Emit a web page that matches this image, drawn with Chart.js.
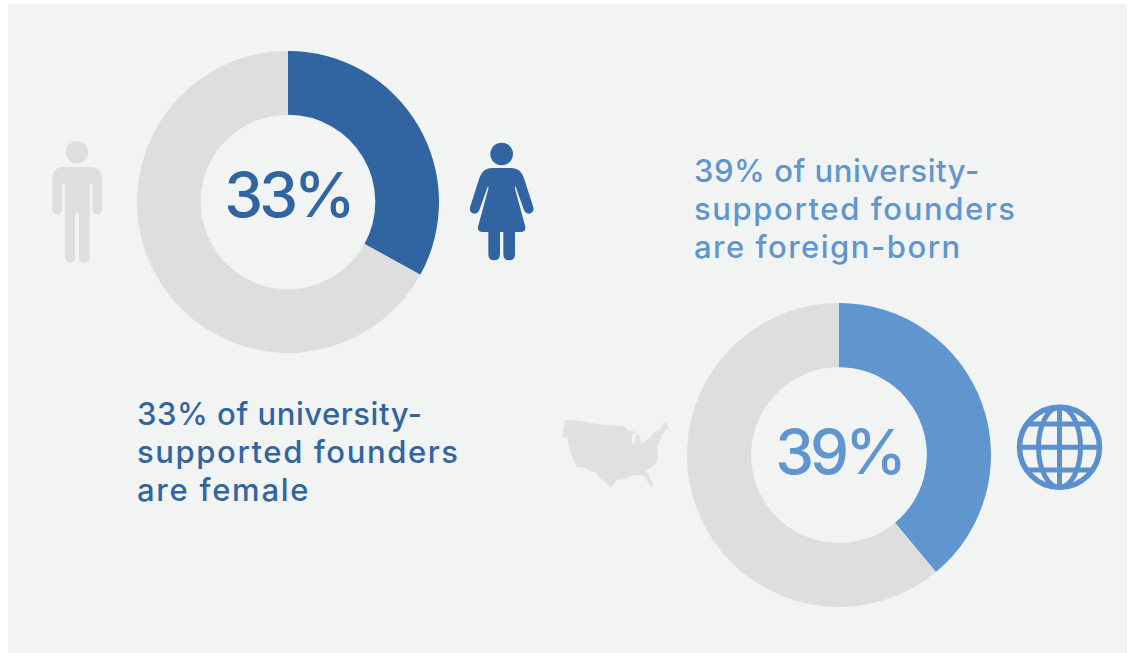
<!DOCTYPE html>
<html>
<head>
<meta charset="utf-8">
<script src="https://cdn.jsdelivr.net/npm/chart.js@4"></script>
<style>
  html, body { margin: 0; padding: 0; background: #fff; }
  #page { position: relative; width: 1130px; height: 653px; overflow: hidden; font-family: Inter, sans-serif; }
  #panel { position: absolute; left: 8px; top: 4px; width: 1119px; height: 649px; background: #f2f4f3; }
  canvas { position: absolute; }
  svg { position: absolute; }
  .big { position: absolute; font-size: 62px; font-weight: 500; letter-spacing: -4px; line-height: 80px; text-align: center; width: 240px; }
  .note { position: absolute; font-size: 31px; font-weight: 500; line-height: 38px; white-space: pre; }
  .note div { height: 38px; }
  .dark { color: #3165a1; }
  .light { color: #6096cf; }
</style>
</head>
<body>
<div id="page">
  <div id="panel"></div>

  <canvas id="femaleChart" width="302" height="302" style="left:137px;top:51px;width:302px;height:302px"></canvas>
  <canvas id="foreignChart" width="304" height="304" style="left:687px;top:303px;width:304px;height:304px"></canvas>

  <div class="big dark" id="femaleBig" style="left:168px;top:155px"></div>
  <div class="big light" id="foreignBig" style="left:719px;top:412px"></div>

  <div class="note dark" id="femaleNote" style="left:137px;top:395px"></div>
  <div class="note light" id="foreignNote" style="left:694px;top:152px"></div>

  <!-- man -->
  <svg style="left:30px;top:120px" width="90" height="160" viewBox="0 0 270 480" fill="#dddfdd">
    <circle cx="141" cy="97" r="33"/>
    <path d="M102 141 H180 Q216 141 216 180 V266 Q216 283 202 283 Q188 283 188 266 V196 Q188 191 184 191 Q179 191 179 196 V412 Q179 428 162 428 Q147 428 147 412 V284 Q147 278 141 278 Q135 278 135 284 V412 Q135 428 120 428 Q105 428 105 412 V196 Q105 191 100 191 Q96 191 96 196 V266 Q96 283 81 283 Q67 283 67 266 V180 Q67 141 102 141 Z"/>
  </svg>

  <!-- woman -->
  <svg style="left:450px;top:130px" width="100" height="140" viewBox="0 0 300 420" fill="#3165a1">
    <circle cx="155" cy="72" r="34"/>
    <path d="M125 114 H185 Q212 114 222 145 L250 232 Q253 248 238 251 Q226 252 221 238 L197 170 Q194 166 195 176 L226 290 Q228 306 212 306 H195 V372 Q195 391 177 391 Q160 391 160 372 V306 H150 V372 Q150 391 132 391 Q115 391 115 372 V306 H98 Q82 306 84 290 L115 176 Q116 166 113 170 L89 238 Q84 252 72 251 Q57 248 60 232 L88 145 Q98 114 125 114 Z"/>
  </svg>

  <!-- US outline -->
  <svg style="left:550px;top:405px" width="130" height="95" viewBox="0 0 390 285" fill="#e0e1e0">
    <path d="M45 45 L60 44 L110 52 L165 60 L205 62 L222 62 L228 72 L245 78 L262 82 L247 88 L245 100 L247 118 L254 116 L255 95 L262 85 L272 98 L272 116 L285 110 L300 100 L310 85 L325 75 L335 68 L338 55 L348 52 L355 68 L345 80 L335 88 L335 100 L328 108 L322 125 L325 150 L320 172 L300 190 L288 195 L298 215 L310 240 L305 247 L295 235 L285 215 L270 210 L245 212 L225 222 L200 225 L190 240 L182 250 L170 235 L150 220 L135 200 L120 198 L105 190 L80 185 L75 175 L60 140 L52 100 L36 95 Z"/>
  </svg>

  <!-- globe -->
  <svg style="left:1005px;top:395px" width="110" height="105" viewBox="0 0 110 105" fill="none" stroke="#5b90cc" stroke-width="5">
    <circle cx="54.5" cy="52.3" r="40" stroke-width="5.5"/>
    <ellipse cx="54.5" cy="52.3" rx="21" ry="40"/>
    <line x1="54.5" y1="12" x2="54.5" y2="92"/>
    <line x1="14.5" y1="52.3" x2="94.5" y2="52.3"/>
    <line x1="21" y1="29" x2="88" y2="29"/>
    <line x1="21" y1="75" x2="88" y2="75"/>
  </svg>
</div>

<script>
const femaleLabels = ["Female", "Male"];
const femaleValues = [33, 67];
const foreignLabels = ["Foreign-born", "US-born"];
const foreignValues = [39, 61];

const femaleBigText = "33%";
const foreignBigText = "39%";
const femaleNoteLines = ["33% of university-", "supported founders", "are female"];
const foreignNoteLines = ["39% of university-", "supported founders", "are foreign-born"];

const ringGrey = "#dddfdd";
const darkBlue = "#3165a1";
const lightBlue = "#6096cf";

function drawRing(id, labels, values, color) {
    new Chart(document.getElementById(id).getContext("2d"), {
        type: "doughnut",
        data: {
            labels: labels,
            datasets: [{
                data: values,
                backgroundColor: [color, ringGrey],
                borderWidth: 0
            }]
        },
        options: {
            responsive: false,
            animation: false,
            cutout: "57.8%",
            plugins: { legend: { display: false }, tooltip: { enabled: false } }
        }
    });
}

// each line gets its own tracking so the widths line up
function writeNote(id, lines, tracking) {
    const box = document.getElementById(id);
    lines.forEach((line, i) => {
        const row = document.createElement("div");
        row.textContent = line;
        row.style.letterSpacing = tracking[i] + "px";
        box.appendChild(row);
    });
}

drawRing("femaleChart", femaleLabels, femaleValues, darkBlue);
drawRing("foreignChart", foreignLabels, foreignValues, lightBlue);

document.getElementById("femaleBig").textContent = femaleBigText;
document.getElementById("foreignBig").textContent = foreignBigText;
writeNote("femaleNote", femaleNoteLines, [0.55, 1.6, 1.75]);
writeNote("foreignNote", foreignNoteLines, [0.55, 1.6, 1.5]);
</script>
</body>
</html>
